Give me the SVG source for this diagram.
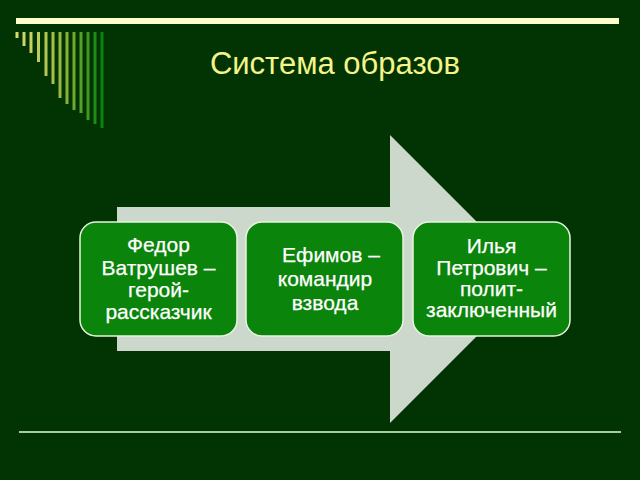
<svg xmlns="http://www.w3.org/2000/svg" width="640" height="480" viewBox="0 0 640 480">
<style>
.t{font-family:"Liberation Sans",Arial,sans-serif;font-size:21px;fill:#ffffff;stroke:#ffffff;stroke-width:0.25;text-anchor:middle}
.box{fill:#0a840a;stroke:#e8f4e0;stroke-width:1.5}
.dec{stroke-width:3}
</style>
<rect width="640" height="480" fill="#023302"/>
<rect x="16" y="18" width="603" height="6" fill="#ffffcc"/>
<g class="dec">
<line x1="17" y1="32" x2="17" y2="38" stroke="#d8d870"/>
<line x1="24" y1="32" x2="24" y2="46" stroke="#d0d468"/>
<line x1="31" y1="32" x2="31" y2="53" stroke="#c8d060"/>
<line x1="38.5" y1="32" x2="38.5" y2="62" stroke="#c0cc58"/>
<line x1="46" y1="32" x2="46" y2="76" stroke="#b4c650"/>
<line x1="53" y1="32" x2="53" y2="84" stroke="#a8c048"/>
<line x1="60" y1="32" x2="60" y2="98" stroke="#98b840"/>
<line x1="67" y1="32" x2="67" y2="104" stroke="#88b038"/>
<line x1="74" y1="32" x2="74" y2="110" stroke="#70a830"/>
<line x1="81" y1="32" x2="81" y2="113" stroke="#58a028"/>
<line x1="88" y1="32" x2="88" y2="120" stroke="#409820"/>
<line x1="95" y1="32" x2="95" y2="124" stroke="#208c18"/>
<line x1="102" y1="32" x2="102" y2="128" stroke="#0a8410"/>
</g>
<text x="335" y="74" font-family="Liberation Sans, Arial, sans-serif" font-size="31" fill="#f4f48a" text-anchor="middle">Система образов</text>
<g id="connectors">
<path d="M117,207 H390 V135 L534,279 L390,423 V351 H117 Z" fill="#ccd8cc"/>
</g>
<g id="n1">
<rect class="box" x="80" y="222" width="157" height="114" rx="16"/>
<text class="t"><tspan x="158.5" y="252">Федор</tspan><tspan x="158.5" y="275">Ватрушев –</tspan><tspan x="158.5" y="297">герой-</tspan><tspan x="158.5" y="319">рассказчик</tspan></text>
</g>
<g id="n2">
<rect class="box" x="246" y="222" width="157" height="114" rx="16"/>
<text class="t"><tspan x="331" y="262">Ефимов –</tspan><tspan x="325" y="285.5">командир</tspan><tspan x="325" y="309.5">взвода</tspan></text>
</g>
<g id="n3">
<rect class="box" x="413" y="222" width="157" height="114" rx="16"/>
<text class="t"><tspan x="491.5" y="253">Илья</tspan><tspan x="491.5" y="275">Петрович –</tspan><tspan x="491.5" y="296">полит-</tspan><tspan x="491.5" y="317">заключенный</tspan></text>
</g>
<rect x="19" y="431" width="602" height="2" fill="#a8cc98"/>
</svg>
